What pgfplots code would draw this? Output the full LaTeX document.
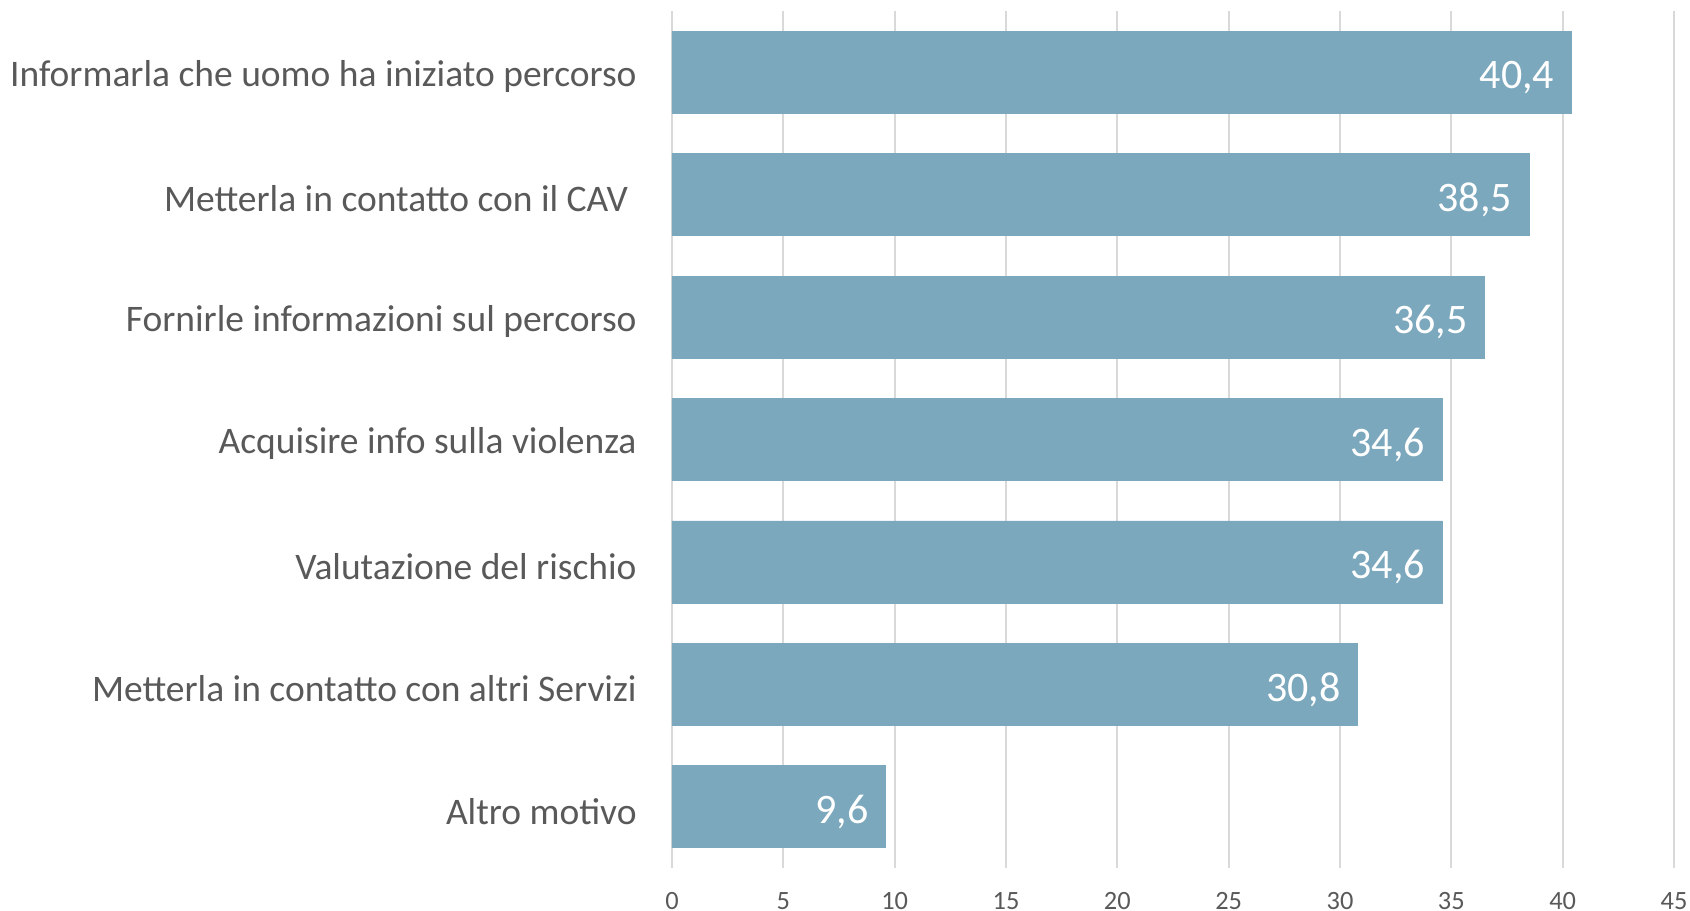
\documentclass[border=0pt]{standalone}
\usepackage{pgfplots}
\pgfplotsset{compat=1.18}
\usepackage{fontspec}
\setmainfont{Carlito}
\definecolor{barc}{HTML}{7BA8BC}
\definecolor{txt}{HTML}{595959}
\definecolor{gridc}{HTML}{D9D9D9}
\begin{document}
\begin{tikzpicture}
\begin{axis}[
  at={(336bp,21.5bp)}, anchor=south west,
  scale only axis, width=501bp, height=428.5bp,
  xmin=0, xmax=45, ymin=-0.5, ymax=6.5,
  y dir=reverse,
  xtick={0,5,...,45},
  ytick={0,...,6},
  yticklabels={Informarla che uomo ha iniziato percorso,Metterla in contatto con il CAV\hspace*{0.226em},Fornirle informazioni sul percorso,Acquisire info sulla violenza,Valutazione del rischio,Metterla in contatto con altri Servizi,Altro motivo},
  axis line style={draw=none},
  major tick length=0pt,
  xmajorgrids, major grid style={draw=gridc, line width=0.9bp},
  /pgf/number format/assume math mode=true,
  xticklabel style={font=\fontsize{13.2bp}{15bp}\selectfont, text=txt, inner sep=0pt, yshift=-12bp},
  yticklabel style={font=\fontsize{18.75bp}{22bp}\selectfont, text=txt, inner sep=0pt, anchor=east, xshift=-17.5bp, yshift=-2.2bp},
  xbar, bar width=41bp, bar shift=0pt,
  nodes near coords={\pgfmathprintnumber[use comma,fixed,fixed zerofill,precision=1,assume math mode=true]{\pgfplotspointmeta}},
  every node near coord/.append style={anchor=east, xshift=-8.5bp, yshift=-2.6bp, font=\fontsize{21bp}{24bp}\selectfont, text=white, inner sep=0pt},
]
\addplot[fill=barc, draw=barc] coordinates {(40.4,0) (38.5,1) (36.5,2) (34.6,3) (34.6,4) (30.8,5) (9.6,6)};
\end{axis}
\pgfresetboundingbox
\useasboundingbox (0,0) rectangle (845bp,455.5bp);
\end{tikzpicture}
\end{document}
